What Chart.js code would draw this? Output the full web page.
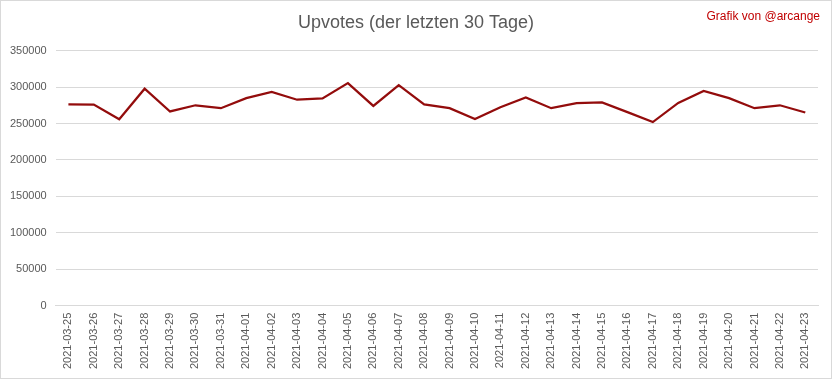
<!DOCTYPE html>
<html>
<head>
<meta charset="utf-8">
<script src="https://cdn.jsdelivr.net/npm/chart.js@4/dist/chart.umd.min.js"></script>
<style>
html,body{margin:0;padding:0;background:#fff;}
#wrap{position:absolute;left:0;top:0;width:830px;height:377px;border:1px solid #d9d9d9;background:#fff;}
canvas{display:block;}
</style>
</head>
<body>
<div id="wrap"><canvas id="c" width="830" height="377"></canvas></div>
<script>
const categories = ["2021-03-25","2021-03-26","2021-03-27","2021-03-28","2021-03-29","2021-03-30","2021-03-31","2021-04-01","2021-04-02","2021-04-03","2021-04-04","2021-04-05","2021-04-06","2021-04-07","2021-04-08","2021-04-09","2021-04-10","2021-04-11","2021-04-12","2021-04-13","2021-04-14","2021-04-15","2021-04-16","2021-04-17","2021-04-18","2021-04-19","2021-04-20","2021-04-21","2021-04-22","2021-04-23"];
const upvotes = [276300,276000,255800,297700,266500,275000,271000,284800,293300,282600,284300,305400,274100,302700,276300,271000,256200,272300,285700,271000,278000,279000,265600,252000,278200,294600,284800,271000,275000,265100];
const titleText = "Upvotes (der letzten 30 Tage)";
const creditText = "Grafik von @arcange";
const yMin = 0, yMax = 350000, yStep = 50000;

const FONT = "'Liberation Sans Narrow','Liberation Sans',Arial,sans-serif";

const creditPlugin = {
  id: 'credit',
  afterDraw(chart) {
    const ctx = chart.ctx;
    ctx.save();
    ctx.font = "12px " + FONT;
    ctx.fillStyle = "#c00000";
    ctx.textAlign = "right";
    ctx.textBaseline = "middle";
    ctx.fillText(creditText, 819, 16);
    ctx.restore();
  }
};

new Chart(document.getElementById('c'), {
  type: 'line',
  data: {
    labels: categories,
    datasets: [{
      label: 'Upvotes',
      data: upvotes,
      borderColor: '#930c0c',
      borderWidth: 2.25,
      pointRadius: 0,
      tension: 0,
      fill: false,
      yAxisID: 'y'
    }]
  },
  options: {
    responsive: false,
    animation: false,
    layout: { padding: { left: 0, right: 0, top: 0, bottom: 2 } },
    plugins: {
      legend: { display: false },
      tooltip: { enabled: false },
      title: {
        display: true,
        text: titleText,
        color: '#595959',
        font: { family: FONT, size: 18, weight: 'normal' },
        padding: { top: 11, bottom: 17 }
      }
    },
    scales: {
      x: {
        offset: true,
        grid: { display: false, drawTicks: false },
        border: { display: true, color: '#d9d9d9' },
        ticks: {
          autoSkip: false,
          maxRotation: 90,
          minRotation: 90,
          color: '#595959',
          padding: 7,
          font: { family: FONT, size: 11 }
        }
      },
      y: {
        min: yMin,
        max: yMax,
        grid: { color: '#d9d9d9', drawTicks: false },
        border: { display: false },
        ticks: {
          stepSize: yStep,
          color: '#595959',
          padding: 9,
          font: { family: FONT, size: 11 },
          callback: v => String(v)
        }
      },
      spacer: {
        position: 'right',
        min: yMin,
        max: yMax,
        grid: { display: false, drawTicks: false },
        border: { display: false },
        ticks: { display: false },
        afterFit(scale) { scale.width = 13; }
      }
    }
  },
  plugins: [creditPlugin]
});
</script>
</body>
</html>
